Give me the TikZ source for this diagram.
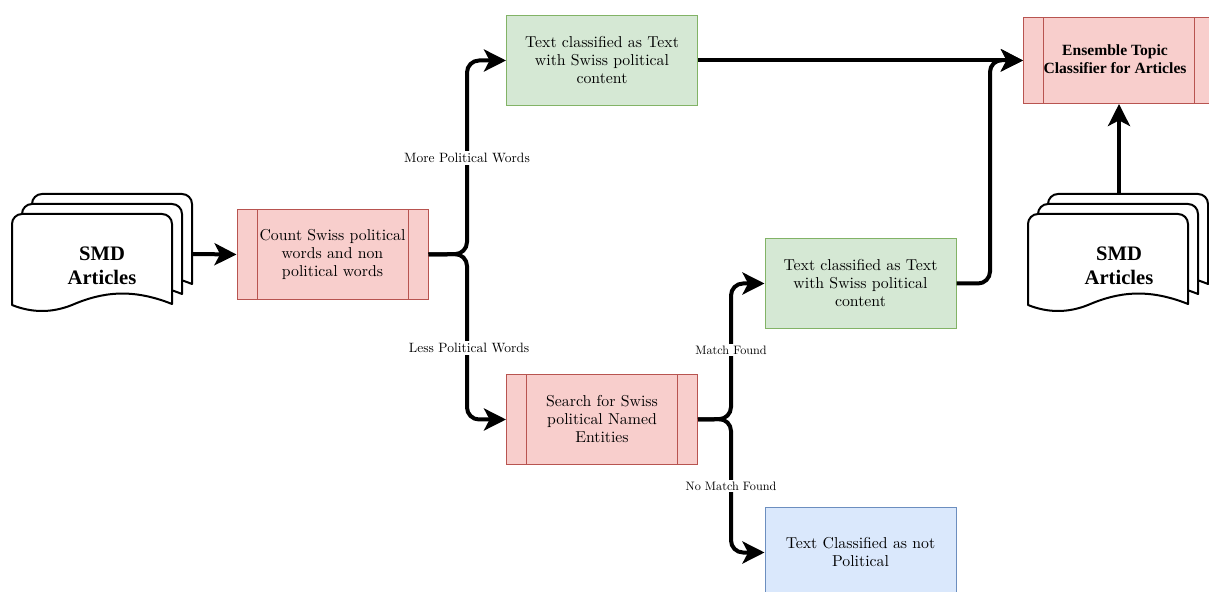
\documentclass[tikz,border=0pt]{standalone}
\usepackage{fontspec}
\usetikzlibrary{arrows.meta}
\newfontfamily\titlefont{Liberation Serif}
\newfontfamily\bodyfont{lmroman10-regular.otf}
\definecolor{redfill}{HTML}{F8CECC}
\definecolor{redline}{HTML}{B85450}
\definecolor{greenfill}{HTML}{D5E8D4}
\definecolor{greenline}{HTML}{82B366}
\definecolor{bluefill}{HTML}{DAE8FC}
\definecolor{blueline}{HTML}{6C8EBF}
\tikzset{
  boxtext/.style={inner sep=0,align=center,font=\fontsize{7.9}{9}\selectfont\bodyfont},
  box/.style={boxtext,rectangle,draw,line width=0.5pt,minimum width=95.5pt,minimum height=45pt},
  greenbox/.style={box,fill=greenfill,draw=greenline},
  bluebox/.style={box,fill=bluefill,draw=blueline},
  procbox/.style={box,fill=redfill,draw=redline,path picture={
    \draw[redline,line width=0.5pt] ([xshift=10pt]path picture bounding box.north west) -- ([xshift=10pt]path picture bounding box.south west);
    \draw[redline,line width=0.5pt] ([xshift=-10pt]path picture bounding box.north east) -- ([xshift=-10pt]path picture bounding box.south east);
  }},
  conn/.style={line width=2pt,rounded corners=6pt,-{Stealth[length=11pt,width=11pt,inset=2.8pt]}},
  edgelabel/.style={fill=white,inner sep=1pt,font=\fontsize{6.75}{8}\selectfont\bodyfont},
  smalllabel/.style={edgelabel,font=\fontsize{6.1}{8}\selectfont\bodyfont},
  sheet/.style={draw,fill=white,line width=1pt,line join=round},
  doctext/.style={inner sep=0,align=center,font=\fontsize{10.3}{12}\selectfont\titlefont\bfseries},
}
% one sheet of the document stack, #1 = left edge, #2 = top edge
\newcommand\DocSheet[2]{%
  \draw[sheet] (#1,#2+91) [rounded corners=5pt] -- (#1,#2) -- (#1+160,#2) [sharp corners] -- (#1+160,#2+90)
    .. controls (#1+120,#2+74) and (#1+90,#2+78) .. (#1+60,#2+91)
    .. controls (#1+40,#2+99) and (#1+20,#2+99) .. (#1,#2+91) -- cycle;
}
\begin{document}
\begin{tikzpicture}[x=0.5pt,y=-0.5pt]
\clip (0,0) rectangle (1209,592);
\foreach \i in {2,1,0} {
  \DocSheet{12+10*\i}{214-10*\i}
  \DocSheet{1028+10*\i}{214-10*\i}
}
\node[doctext] (smdleft) at (102,266) {SMD\\Articles};
\node[doctext] (smdright) at (1119,266) {SMD\\Articles};
\coordinate (smdleftout) at (192,254);
\coordinate (smdrightout) at (1119,194);
\node[procbox] (count) at (332.5,254.5) {Count Swiss political\\words and non\\political words};
\node[greenbox] (textA) at (602,60.5) {Text classified as Text\\with Swiss political\\content};
\node[procbox] (search) at (602,419.5) {Search for Swiss\\political Named\\Entities};
\node[greenbox] (textB) at (860.5,283.5) {Text classified as Text\\with Swiss political\\content};
\node[bluebox] (notpol) at (860.5,552.5) {};
\node[boxtext] (notpoltext) at (860.5,552) {Text Classified as not\\Political};
\node[procbox,minimum height=43pt] (ensemble) at (1119,60.5) {};
\node[boxtext,font=\fontsize{7.8}{9}\selectfont\titlefont\bfseries] (ensembletext) at (1115,59) {Ensemble Topic\\Classifier for Articles};
\coordinate (splitA) at (467,254);
\coordinate (splitB) at (731,419);
\coordinate (joinB) at (990,60);
\draw[conn] (smdleftout) -- (count.west);
\draw[conn] (count.east) -- (splitA) |- (textA.west);
\draw[conn] (count.east) -- (splitA) |- (search.west);
\draw[conn] (search.east) -- (splitB) |- (textB.west);
\draw[conn] (search.east) -- (splitB) |- (notpol.west);
\draw[conn] (textA.east) -- (ensemble.west);
\draw[conn] (textB.east) -- (joinB |- textB.east) -- (joinB) -- (ensemble.west);
\draw[conn] (smdrightout) -- (ensemble.south);
\node[edgelabel] (lblmore) at (467,158) {More Political Words};
\node[edgelabel] (lblless) at (469,348) {Less Political Words};
\node[smalllabel] (lblmatch) at (731,350) {Match Found};
\node[smalllabel] (lblnomatch) at (731,486) {No Match Found};
\end{tikzpicture}
\end{document}
